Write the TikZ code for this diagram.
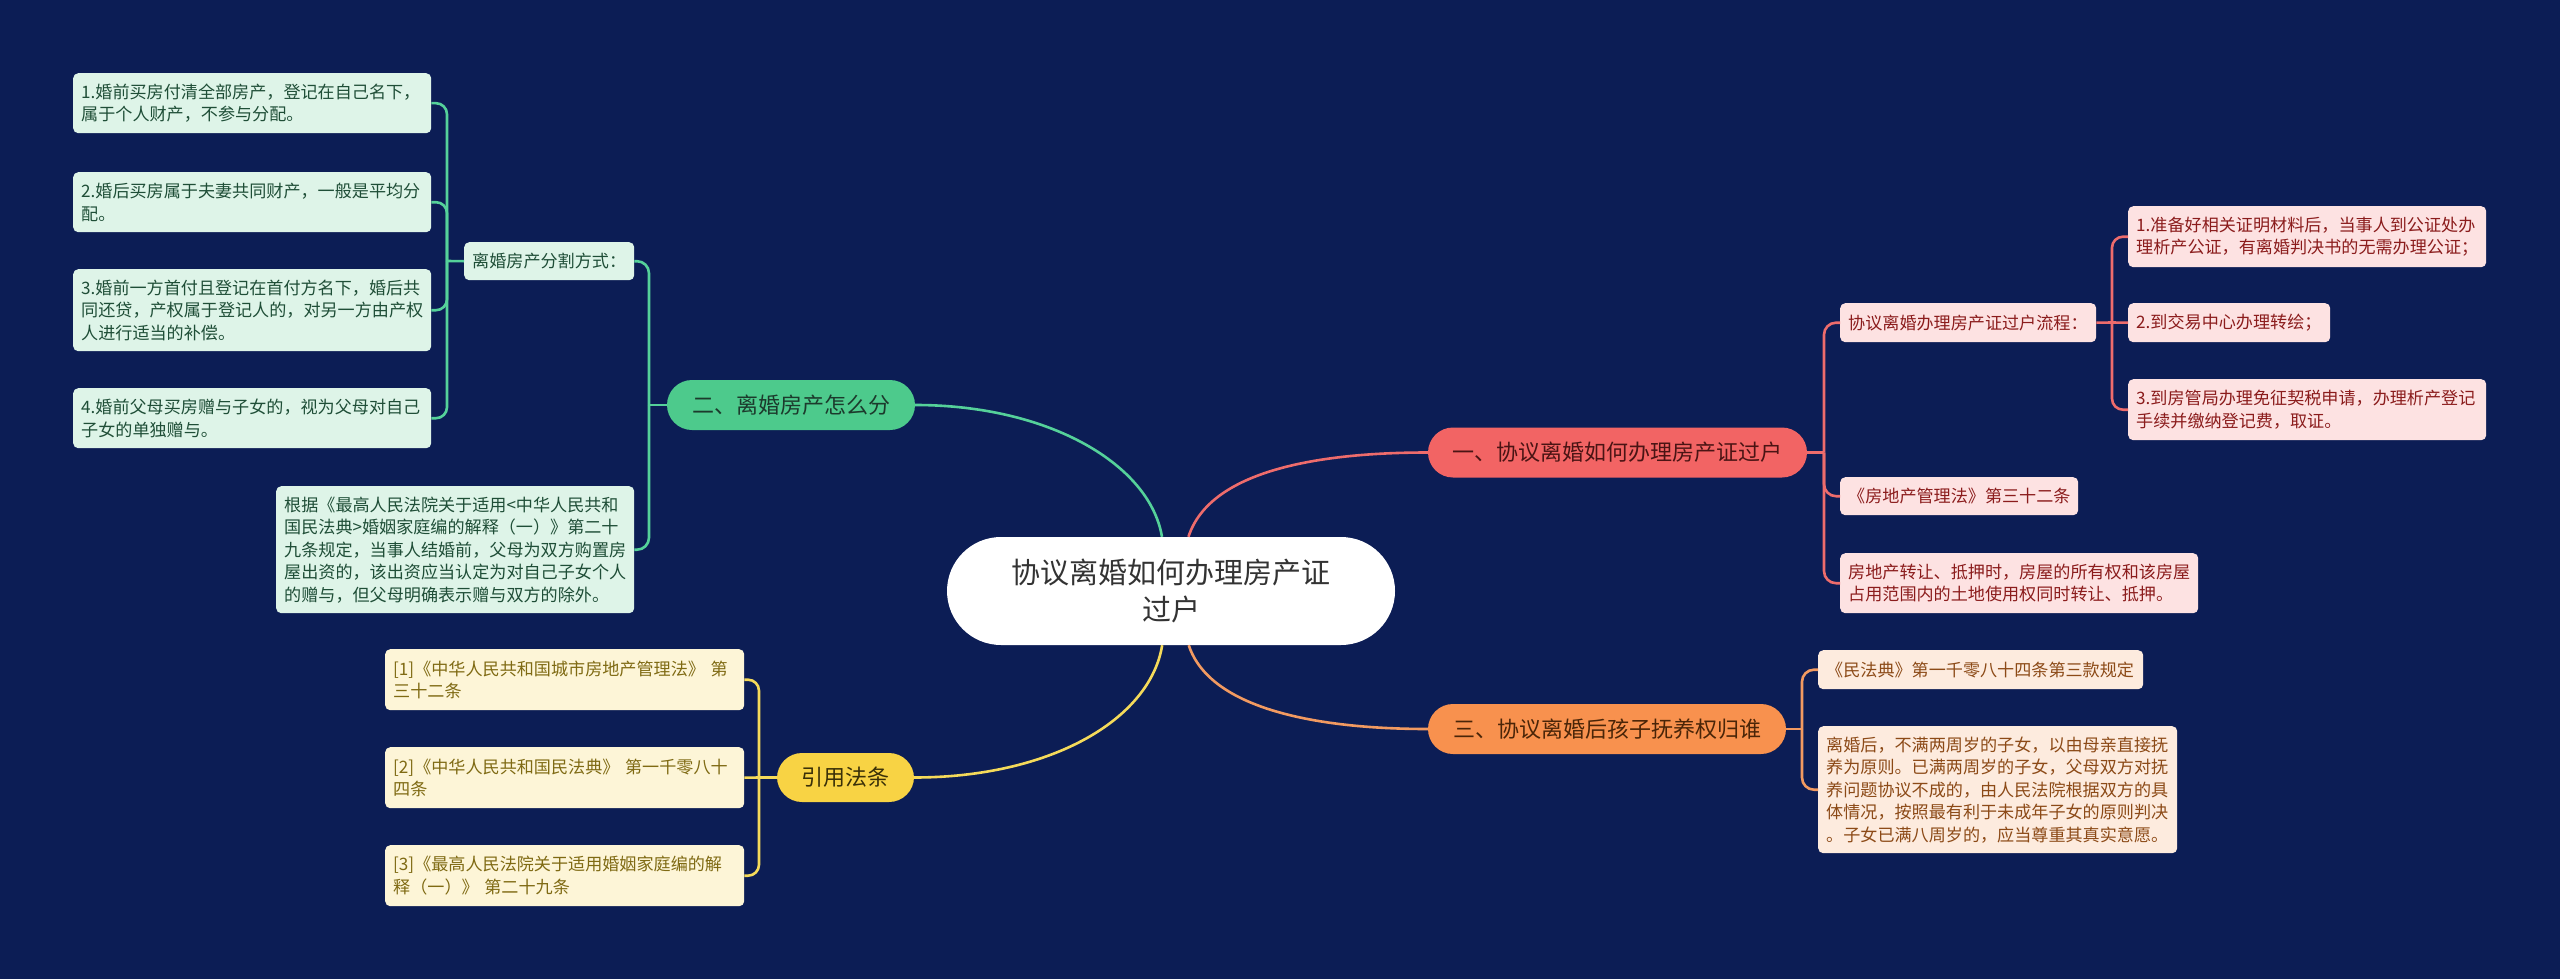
\documentclass[tikz,border=0pt]{standalone}
\usepackage{fontspec}
\setmainfont{Noto Sans CJK SC}
\newcommand\leaffont{\fontsize{17.1pt}{22.5pt}\selectfont}
\newcommand\branchfont{\fontsize{22pt}{26pt}\selectfont}
\newcommand\centralfont{\fontsize{29pt}{37pt}\selectfont}
\definecolor{bg}{HTML}{0C1D55}
\definecolor{gfill}{HTML}{4DCA8C}
\definecolor{gline}{HTML}{55D19A}
\definecolor{gleaf}{HTML}{DEF4E8}
\definecolor{gtext}{HTML}{1F4E37}
\definecolor{gbtext}{HTML}{1C3A2C}
\definecolor{rfill}{HTML}{F26464}
\definecolor{rline}{HTML}{EE6C6C}
\definecolor{rleaf}{HTML}{FDE2E2}
\definecolor{rtext}{HTML}{8B1C1C}
\definecolor{rbtext}{HTML}{4A1414}
\definecolor{ofill}{HTML}{F8914E}
\definecolor{oline}{HTML}{F29A61}
\definecolor{oleaf}{HTML}{FDEBDE}
\definecolor{otext}{HTML}{8C4A17}
\definecolor{obtext}{HTML}{4A2508}
\definecolor{yfill}{HTML}{F8D344}
\definecolor{yline}{HTML}{F5DA5A}
\definecolor{yleaf}{HTML}{FDF5D7}
\definecolor{ytext}{HTML}{7F6A13}
\definecolor{ybtext}{HTML}{3A3008}
\definecolor{ctext}{HTML}{333333}
\tikzset{
  central/.style={fill=white, text=ctext, rounded corners=54pt, minimum width=448pt, minimum height=108pt, inner sep=0pt, align=center, font=\centralfont},
  branch/.style={rounded corners=25pt, minimum height=50pt, inner sep=0pt, align=center, font=\branchfont},
  leaf/.style={rounded corners=5pt, inner xsep=8pt, inner ysep=0pt, align=left, anchor=north west, font=\leaffont},
  gleafbox/.style={leaf, fill=gleaf, text=gtext},
  rleafbox/.style={leaf, fill=rleaf, text=rtext},
  oleafbox/.style={leaf, fill=oleaf, text=otext},
  yleafbox/.style={leaf, fill=yleaf, text=ytext},
  conn/.style={line width=2.6pt},
  gconn/.style={conn, draw=gline},
  rconn/.style={conn, draw=rline},
  oconn/.style={conn, draw=oline},
  yconn/.style={conn, draw=yline},
}
\begin{document}
\begin{tikzpicture}[x=1pt,y=-1pt]
\fill[bg] (0,0) rectangle (2560,979);
\useasboundingbox (0,0) rectangle (2560,979);

% central
\node[central] (c) at (1171,591) {协议离婚如何办理房产证\\过户};

% branches
\node[branch, fill=gfill, text=gbtext, minimum width=248pt] (b2) at (791,405) {二、离婚房产怎么分};
\node[branch, fill=rfill, text=rbtext, minimum width=379pt] (b1) at (1617.5,452.5) {一、协议离婚如何办理房产证过户};
\node[branch, fill=ofill, text=obtext, minimum width=358pt] (b3) at (1607,729) {三、协议离婚后孩子抚养权归谁};
\node[branch, fill=yfill, text=ybtext, minimum width=137pt, minimum height=49pt] (b4) at (845.5,777.5) {引用法条};

% green leaves
\node[gleafbox, text width=154pt, minimum height=38pt] (gs) at (464,242) {离婚房产分割方式：};
\node[gleafbox, text width=342pt, minimum height=60pt] (g1) at (73,73) {1.婚前买房付清全部房产，登记在自己名下，\\属于个人财产，不参与分配。};
\node[gleafbox, text width=342pt, minimum height=60pt] (g2) at (73,172) {2.婚后买房属于夫妻共同财产，一般是平均分\\配。};
\node[gleafbox, text width=342pt, minimum height=82pt] (g3) at (73,269) {3.婚前一方首付且登记在首付方名下，婚后共\\同还贷，产权属于登记人的，对另一方由产权\\人进行适当的补偿。};
\node[gleafbox, text width=342pt, minimum height=60pt] (g4) at (73,388) {4.婚前父母买房赠与子女的，视为父母对自己\\子女的单独赠与。};
\node[gleafbox, text width=342pt, minimum height=127pt] (g5) at (276,486) {根据《最高人民法院关于适用<中华人民共和\\国民法典>婚姻家庭编的解释（一）》第二十\\九条规定，当事人结婚前，父母为双方购置房\\屋出资的，该出资应当认定为对自己子女个人\\的赠与，但父母明确表示赠与双方的除外。};

% red leaves
\node[rleafbox, text width=240pt, minimum height=39pt] (rf) at (1840,303) {协议离婚办理房产证过户流程：};
\node[rleafbox, text width=342pt, minimum height=61pt] (r1) at (2128,206) {1.准备好相关证明材料后，当事人到公证处办\\理析产公证，有离婚判决书的无需办理公证；};
\node[rleafbox, text width=186pt, minimum height=39pt] (r2) at (2128,303) {2.到交易中心办理转绘；};
\node[rleafbox, text width=342pt, minimum height=61pt] (r3) at (2128,379) {3.到房管局办理免征契税申请，办理析产登记\\手续并缴纳登记费，取证。};
\node[rleafbox, text width=222pt, minimum height=38pt] (r4) at (1840,477) {《房地产管理法》第三十二条};
\node[rleafbox, text width=342pt, minimum height=60pt] (r5) at (1840,553) {房地产转让、抵押时，房屋的所有权和该房屋\\占用范围内的土地使用权同时转让、抵押。};

% orange leaves
\node[oleafbox, text width=309pt, minimum height=39pt] (o1) at (1818,650) {《民法典》第一千零八十四条第三款规定};
\node[oleafbox, text width=343pt, minimum height=127pt] (o2) at (1818,726) {离婚后，不满两周岁的子女，以由母亲直接抚\\养为原则。已满两周岁的子女，父母双方对抚\\养问题协议不成的，由人民法院根据双方的具\\体情况，按照最有利于未成年子女的原则判决\\。子女已满八周岁的，应当尊重其真实意愿。};

% yellow leaves
\node[yleafbox, text width=343pt, minimum height=61pt] (y1) at (385,649) {[1]《中华人民共和国城市房地产管理法》 第\\三十二条};
\node[yleafbox, text width=343pt, minimum height=61pt] (y2) at (385,747) {[2]《中华人民共和国民法典》 第一千零八十\\四条};
\node[yleafbox, text width=343pt, minimum height=61pt] (y3) at (385,845) {[3]《最高人民法院关于适用婚姻家庭编的解\\释（一）》 第二十九条};

% main connectors
\draw[gconn] (c) .. controls (1150,465) and (1050,405) .. (b2.east);
\draw[rconn] (c) .. controls (1210,470) and (1320,452.5) .. (b1.west);
\draw[yconn] (c) .. controls (1150,720) and (1050,777.5) .. (b4.east);
\draw[oconn] (c) .. controls (1210,710) and (1320,729) .. (b3.west);

% junctions
\coordinate (j2) at (649,405);
\coordinate (js) at (447,261);
\coordinate (j1) at (1824,452.5);
\coordinate (jf) at (2112,322.5);
\coordinate (j3) at (1802,729);
\coordinate (j4) at (759,777.5);

% green brackets
\draw[gconn] (b2.west) -- (j2);
\draw[gconn, rounded corners=12pt] (j2) |- (gs.east);
\draw[gconn, rounded corners=12pt] (j2) |- (g5.east);
\draw[gconn] (gs.west) -- (js);
\draw[gconn, rounded corners=11pt] (js) |- (g1.east);
\draw[gconn, rounded corners=11pt] (js) |- (g2.east);
\draw[gconn, rounded corners=11pt] (js) |- (g3.east);
\draw[gconn, rounded corners=11pt] (js) |- (g4.east);

% red brackets
\draw[rconn] (b1.east) -- (j1);
\draw[rconn, rounded corners=12pt] (j1) |- (rf.west);
\draw[rconn, rounded corners=12pt] (j1) |- (r4.west);
\draw[rconn, rounded corners=12pt] (j1) |- (r5.west);
\draw[rconn] (rf.east) -- (jf);
\draw[rconn, rounded corners=11pt] (jf) |- (r1.west);
\draw[rconn] (jf) -- (r2.west);
\draw[rconn, rounded corners=11pt] (jf) |- (r3.west);

% orange brackets
\draw[oconn] (b3.east) -- (j3);
\draw[oconn, rounded corners=12pt] (j3) |- (o1.west);
\draw[oconn, rounded corners=12pt] (j3) |- (o2.west);

% yellow brackets
\draw[yconn] (b4.west) -- (j4);
\draw[yconn, rounded corners=11pt] (j4) |- (y1.east);
\draw[yconn] (j4) -- (y2.east);
\draw[yconn, rounded corners=11pt] (j4) |- (y3.east);
\end{tikzpicture}
\end{document}
